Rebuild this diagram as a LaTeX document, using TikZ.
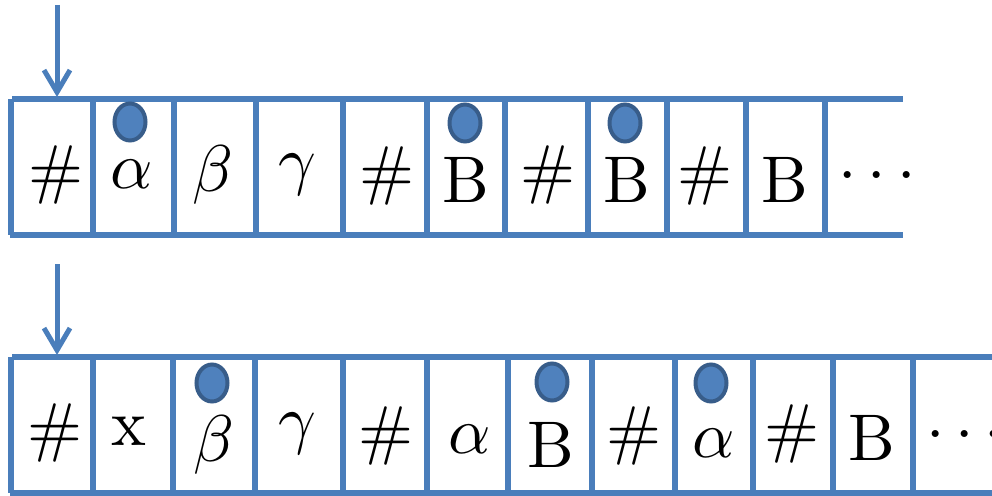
\documentclass[tikz,border=0pt]{standalone}
\usepackage{graphicx}
\usetikzlibrary{arrows.meta,shapes.geometric}
\definecolor{tapeblue}{RGB}{74,126,187}
\definecolor{dotfill}{RGB}{79,129,189}
\definecolor{dotedge}{RGB}{56,93,138}
\newcommand{\tapesym}[1]{\scalebox{6.6}{#1}}
\tikzset{
  tapeline/.style={draw=tapeblue, line width=5.5pt},
  sym/.style={inner sep=0pt, anchor=base, font=\fontsize{10}{12}\selectfont},
  headmark/.style={shape=ellipse, draw=dotedge, fill=dotfill, line width=4pt,
    minimum width=31pt, minimum height=37pt, inner sep=0pt},
  pointer/.style={draw=tapeblue, line width=5pt,
    -{Straight Barb[length=22pt,width=26pt,line width=5pt]}}
}
\begin{document}
\begin{tikzpicture}[x=1pt,y=-1pt]
\useasboundingbox (0,0) rectangle (992,495);
% ---------- top tape ----------
\draw[tapeline] (12,99) -- (903,99);
\draw[tapeline] (10,235) -- (903,235);
\foreach \x in {11,93,174,256,343,427,505,588,667,746,825}
  \draw[tapeline] (\x,99) -- (\x,235);
\coordinate (p1s) at (57,5);
\coordinate (p1e) at (57,97);
\draw[pointer] (p1s) -- (p1e);
\node[sym] (t1) at (56,191) {\tapesym{\#}};
\node[sym] (t2) at (132,188) {\tapesym{$\alpha$}};
\node[sym] (t3) at (213,191) {\tapesym{$\beta$}};
\node[sym] (t4) at (297,182) {\tapesym{$\gamma$}};
\node[sym] (t5) at (387,192) {\tapesym{\#}};
\node[sym] (t6) at (466,202) {\tapesym{B}};
\node[sym] (t7) at (548,191) {\tapesym{\#}};
\node[sym] (t8) at (627,202) {\tapesym{B}};
\node[sym] (t9) at (705,192) {\tapesym{\#}};
\node[sym] (t10) at (785,202) {\tapesym{B}};
\node[sym] (t11) at (877,191) {\tapesym{$\cdots$}};
\node[headmark] (m1) at (130,122) {};
\node[headmark] (m2) at (465,123) {};
\node[headmark] (m3) at (625,123) {};
% ---------- bottom tape ----------
\draw[tapeline] (12,357) -- (992,357);
\draw[tapeline] (10,493) -- (992,493);
\foreach \x in {11,93,173,255,343,427,508,592,675,753,833,913}
  \draw[tapeline] (\x,357) -- (\x,493);
\coordinate (p2s) at (57,264);
\coordinate (p2e) at (57,355);
\draw[pointer] (p2s) -- (p2e);
\node[sym] (b1) at (55,449) {\tapesym{\#}};
\node[sym] (b2) at (129,445) {\tapesym{x}};
\node[sym] (b3) at (214,461) {\tapesym{$\beta$}};
\node[sym] (b4) at (297,441) {\tapesym{$\gamma$}};
\node[sym] (b5) at (386,452) {\tapesym{\#}};
\node[sym] (b6) at (470,453) {\tapesym{$\alpha$}};
\node[sym] (b7) at (551,467) {\tapesym{B}};
\node[sym] (b8) at (634,452) {\tapesym{\#}};
\node[sym] (b9) at (714,457) {\tapesym{$\alpha$}};
\node[sym] (b10) at (792,450) {\tapesym{\#}};
\node[sym] (b11) at (872,460) {\tapesym{B}};
\node[sym, anchor=base west] (b12) at (926,450) {\tapesym{$\cdots$}};
\node[headmark] (n1) at (212,383) {};
\node[headmark] (n2) at (552,382) {};
\node[headmark] (n3) at (711,383) {};
\end{tikzpicture}
\end{document}
